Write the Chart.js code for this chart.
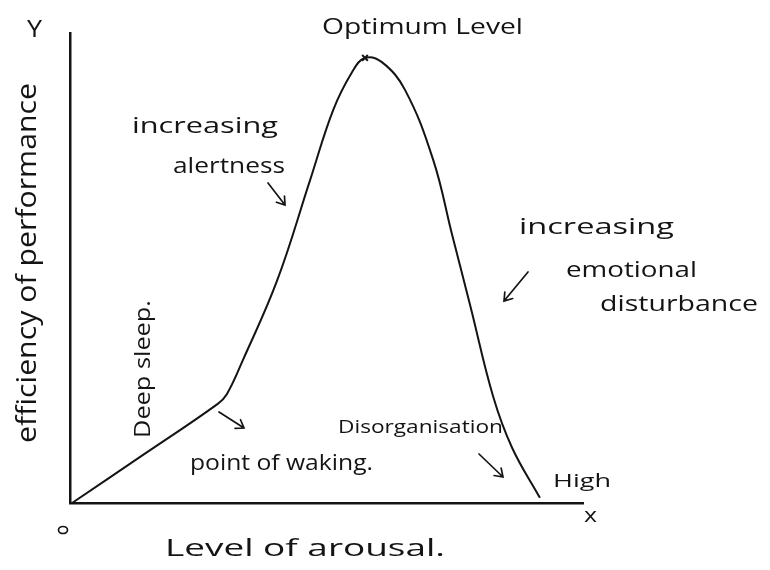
<!DOCTYPE html>
<html>
<head>
<meta charset="utf-8">
<title>Arousal and performance</title>
<script src="https://cdn.jsdelivr.net/npm/chart.js@4/dist/chart.umd.min.js"></script>
<style>
  html, body { margin: 0; padding: 0; background: #fff; }
  canvas { display: block; }
</style>
</head>
<body>
<canvas id="curve" width="770" height="570"></canvas>
<script>
/* Yerkes-Dodson style sketch: efficiency of performance vs level of arousal */

// level of arousal (0 = none, 100 = end of axis)
const arousal = [0.4, 14.6, 28.8, 30.6, 33.7, 40.4, 46.8, 51.3, 55.0, 57.5,
                 60.8, 65.3, 70.8, 74.5, 78.0, 82.5, 86.2, 91.6];
// efficiency of performance at each arousal level
const performance = [0, 10.5, 21.1, 23.2, 30.4, 47.4, 68.7, 83.6, 91.7, 94.7,
                     93.8, 87.9, 73.0, 57.0, 42.1, 22.6, 11.7, 1.1];
const peakIndex = 9;

const INK = '#141414';
const HAND = "'Open Sans', 'Noto Sans', sans-serif";

// draw text stretched to a given width (handwriting runs wide)
function fitText(ctx, text, x, y, width, size, angle) {
  ctx.save();
  ctx.font = `${size}px ${HAND}`;
  const w = ctx.measureText(text).width;
  ctx.translate(x, y);
  if (angle) ctx.rotate(angle);
  ctx.scale(width / w, 1);
  ctx.textAlign = 'left';
  ctx.textBaseline = 'alphabetic';
  ctx.fillText(text, 0, 0);
  ctx.restore();
}

function arrow(ctx, x1, y1, x2, y2) {
  const a = Math.atan2(y2 - y1, x2 - x1);
  const h = 9;
  ctx.beginPath();
  ctx.moveTo(x1, y1);
  ctx.lineTo(x2, y2);
  ctx.moveTo(x2 - h * Math.cos(a - 0.6), y2 - h * Math.sin(a - 0.6));
  ctx.lineTo(x2, y2);
  ctx.lineTo(x2 - h * Math.cos(a + 0.6), y2 - h * Math.sin(a + 0.6));
  ctx.stroke();
}

const sketchNotes = {
  id: 'sketchNotes',
  afterDraw(chart) {
    const ctx = chart.ctx;
    ctx.save();
    ctx.fillStyle = INK;
    ctx.strokeStyle = INK;
    ctx.lineWidth = 1.7;
    ctx.lineCap = 'round';

    // axis letters
    fitText(ctx, 'Y', 27, 37, 15, 24);
    fitText(ctx, 'x', 584, 522, 13, 20);
    ctx.beginPath();
    ctx.ellipse(63, 530, 4.5, 3.5, 0, 0, Math.PI * 2);
    ctx.stroke();

    // axis titles
    fitText(ctx, 'efficiency of performance', 36, 443, 360, 27, -Math.PI / 2);
    fitText(ctx, 'Level of arousal.', 165, 556, 280, 24);

    fitText(ctx, 'Optimum Level', 322, 34, 201, 22);

    fitText(ctx, 'increasing', 132, 133, 146, 22);
    fitText(ctx, 'alertness', 173, 173, 112, 22);
    arrow(ctx, 268, 183, 285, 205);

    fitText(ctx, 'increasing', 519, 234, 155, 22);
    fitText(ctx, 'emotional', 566, 277, 131, 22);
    fitText(ctx, 'disturbance', 600, 311, 158, 22);
    arrow(ctx, 528, 272, 504, 301);

    fitText(ctx, 'Deep sleep.', 150, 438, 138, 21, -Math.PI / 2);

    arrow(ctx, 219, 412, 244, 428);
    fitText(ctx, 'point of waking.', 190, 470, 183, 21);

    fitText(ctx, 'Disorganisation', 338, 433, 165, 19);
    arrow(ctx, 479, 454, 503, 477);

    fitText(ctx, 'High', 553, 487, 58, 19);
    ctx.restore();
  }
};

const hiddenAxis = {
  type: 'linear', min: 0, max: 100,
  grid: { display: false, drawTicks: false, tickLength: 0 },
  ticks: { display: false },
  border: { display: true, color: INK, width: 2.5 }
};

new Chart(document.getElementById('curve'), {
  type: 'line',
  data: {
    datasets: [{
      data: arousal.map((x, i) => ({ x, y: performance[i] })),
      borderColor: INK,
      borderWidth: 2,
      tension: 0.4,
      pointStyle: 'crossRot',
      pointRadius: ctx => (ctx.dataIndex === peakIndex ? 4 : 0),
      pointBorderColor: INK,
      pointBorderWidth: 2,
      fill: false,
      clip: false
    }]
  },
  options: {
    responsive: false,
    animation: false,
    events: [],
    layout: { padding: { left: 70, right: 187, top: 33, bottom: 67 } },
    plugins: { legend: { display: false }, tooltip: { enabled: false } },
    scales: {
      x: { ...hiddenAxis },
      y: { ...hiddenAxis }
    }
  },
  plugins: [sketchNotes]
});
</script>
</body>
</html>
